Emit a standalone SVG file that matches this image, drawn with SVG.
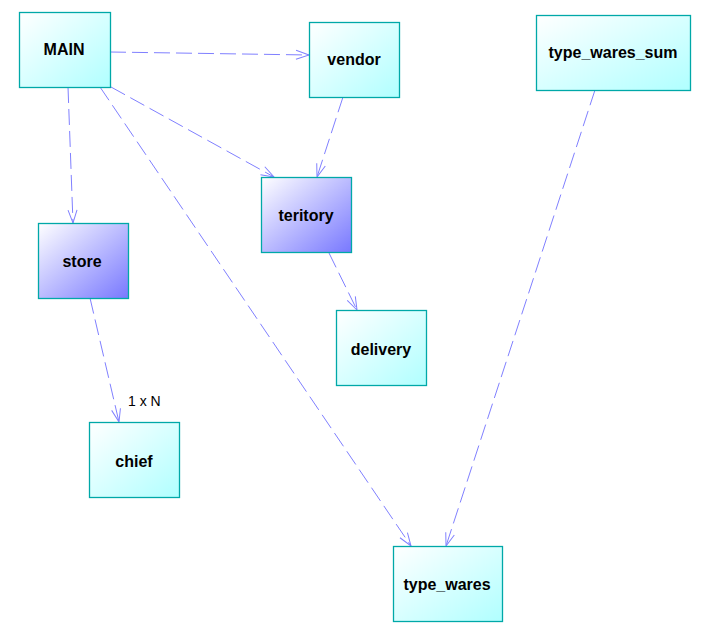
<svg xmlns="http://www.w3.org/2000/svg" width="710" height="635" viewBox="0 0 710 635">
<defs>
<linearGradient id="gc" x1="0" y1="0" x2="1" y2="1">
<stop offset="0" stop-color="#ffffff"/>
<stop offset="1" stop-color="#b0ffff"/>
</linearGradient>
<linearGradient id="gb" x1="0" y1="0" x2="1" y2="1">
<stop offset="0" stop-color="#ffffff"/>
<stop offset="1" stop-color="#7878ff"/>
</linearGradient>
<marker id="ah" markerUnits="userSpaceOnUse" markerWidth="30" markerHeight="30" refX="0" refY="0" viewBox="-15 -15 30 30" orient="auto" overflow="visible">
<path d="M-13,-4.5 L0,0 L-13,4.5" fill="none" stroke="#8080ff" stroke-width="1"/>
</marker>
<style>
.n rect{stroke:#00a8a8;stroke-width:1.3}
.c{fill:url(#gc)}
.b{fill:url(#gb)}
.n text{font-family:"Liberation Sans",Arial,sans-serif;font-size:16px;font-weight:bold;fill:#000;text-anchor:middle}
.e line{stroke:#8080ff;stroke-width:1;stroke-dasharray:16,6;fill:none;marker-end:url(#ah)}
.lbl{font-family:"Liberation Sans",Arial,sans-serif;font-size:14px;fill:#000}
</style>
</defs>
<rect width="710" height="635" fill="#ffffff"/>
<g id="connectors" class="e">
<line x1="110" y1="52" x2="309" y2="55"/>
<line x1="68" y1="87" x2="73" y2="223"/>
<line x1="111" y1="87" x2="274" y2="177"/>
<line x1="100" y1="87" x2="411" y2="546"/>
<line x1="343" y1="97" x2="317" y2="177"/>
<line x1="329" y1="253" x2="357" y2="310"/>
<line x1="90" y1="298" x2="119" y2="422"/>
<line x1="595" y1="90" x2="446" y2="546"/>
<text class="lbl" x="128" y="406">1 x N</text>
</g>
<g id="MAIN" class="n"><rect class="c" x="19.5" y="12.5" width="91" height="75"/><text x="64" y="55">MAIN</text></g>
<g id="vendor" class="n"><rect class="c" x="309.5" y="22.5" width="90" height="75"/><text x="354" y="65">vendor</text></g>
<g id="type_wares_sum" class="n"><rect class="c" x="536.5" y="15.5" width="154" height="75"/><text x="613" y="58">type_wares_sum</text></g>
<g id="teritory" class="n"><rect class="b" x="261.5" y="177.5" width="90" height="75"/><text x="306" y="221">teritory</text></g>
<g id="store" class="n"><rect class="b" x="38.5" y="223.5" width="90" height="75"/><text x="82" y="267">store</text></g>
<g id="delivery" class="n"><rect class="c" x="336.5" y="310.5" width="90" height="75"/><text x="381" y="355">delivery</text></g>
<g id="chief" class="n"><rect class="c" x="89.5" y="422.5" width="90" height="75"/><text x="134" y="467">chief</text></g>
<g id="type_wares" class="n"><rect class="c" x="393.5" y="546.5" width="109" height="75"/><text x="447" y="590">type_wares</text></g>
</svg>
